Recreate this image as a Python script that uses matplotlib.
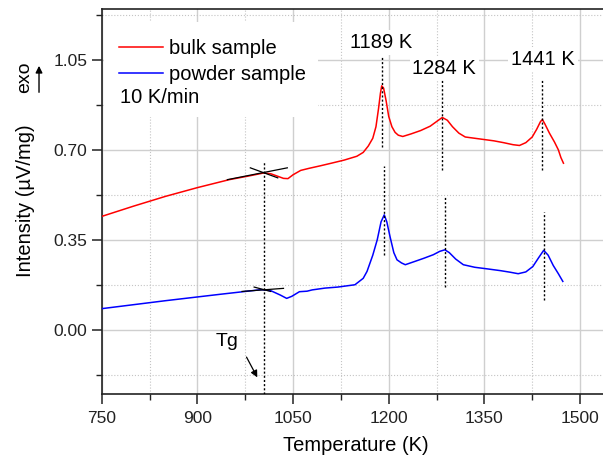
# DSC traces for bulk vs powder sample, 10 K/min
import matplotlib
matplotlib.use("Agg")
import matplotlib.pyplot as plt
from matplotlib.patches import Rectangle
from matplotlib.ticker import MultipleLocator, FormatStrFormatter

plt.rcParams['font.family'] = ['Liberation Sans', 'DejaVu Sans']

# bulk sample (red)
bulk_T = [750, 800, 850, 900, 950, 980, 1004, 1015, 1025, 1035, 1042, 1050, 1062, 1075, 1093,
          1110, 1130, 1150, 1160, 1168, 1175, 1180, 1184, 1187, 1189, 1192, 1196, 1200, 1205,
          1210, 1215, 1222, 1235, 1250, 1265, 1275, 1284, 1292, 1300, 1310, 1320, 1335, 1350,
          1365, 1380, 1395, 1405, 1415, 1425, 1432, 1438, 1441, 1445, 1452, 1460, 1466, 1470, 1474]
bulk_I = [0.441, 0.481, 0.519, 0.553, 0.584, 0.598, 0.610, 0.607, 0.598, 0.589, 0.588, 0.603, 0.620,
          0.628, 0.638, 0.648, 0.660, 0.675, 0.690, 0.715, 0.745, 0.790, 0.860, 0.920, 0.949, 0.940,
          0.890, 0.830, 0.790, 0.768, 0.757, 0.752, 0.762, 0.775, 0.792, 0.810, 0.826, 0.815, 0.790,
          0.765, 0.750, 0.745, 0.740, 0.735, 0.728, 0.720, 0.717, 0.728, 0.750, 0.780, 0.810, 0.818,
          0.800, 0.765, 0.730, 0.700, 0.670, 0.648]

# powder sample (blue)
powder_T = [750, 850, 936, 1000, 1015, 1030, 1040, 1048, 1060, 1072, 1080, 1100, 1120, 1147, 1160,
            1166, 1175, 1182, 1188, 1193, 1197, 1202, 1208, 1213, 1220, 1226, 1240, 1255, 1270,
            1280, 1288, 1295, 1305, 1317, 1335, 1354, 1375, 1390, 1403, 1415, 1426, 1435, 1443,
            1450, 1458, 1466, 1473]
powder_I = [0.082, 0.113, 0.138, 0.156, 0.152, 0.135, 0.122, 0.130, 0.148, 0.150, 0.155, 0.162,
            0.166, 0.175, 0.200, 0.227, 0.290, 0.350, 0.420, 0.447, 0.420, 0.363, 0.300, 0.272,
            0.260, 0.253, 0.265, 0.278, 0.292, 0.305, 0.311, 0.300, 0.275, 0.253, 0.243, 0.237,
            0.230, 0.224, 0.218, 0.225, 0.246, 0.280, 0.309, 0.290, 0.250, 0.218, 0.188]

# tangent construction lines for Tg (x pairs, y pairs)
tangents = [
    ([947, 1041], [0.584, 0.630]),
    ([983, 1026], [0.630, 0.591]),
    ([970, 1035], [0.149, 0.161]),
    ([989, 1015], [0.166, 0.149]),
]

# dotted markers: x, y from, y to
marks_x = [1004, 1189, 1193, 1284, 1289, 1441, 1444]
marks_y0 = [-0.25, 0.712, 0.292, 0.623, 0.166, 0.623, 0.117]
marks_y1 = [0.654, 1.062, 0.636, 0.977, 0.519, 0.977, 0.460]

peak_labels = ['1189 K', '1284 K', '1441 K']
peak_pos = [(1188, 1.118), (1287, 1.018), (1442, 1.052)]

fig = plt.figure(figsize=(6.03, 4.57), dpi=100)
ax = fig.add_axes([0.1687, 0.1379, 0.8313, 0.8435])
ax.set_axisbelow(True)

ax.set_xlim(750, 1536)
ax.set_ylim(-0.25, 1.25)
ax.xaxis.set_major_locator(MultipleLocator(150))
ax.xaxis.set_minor_locator(MultipleLocator(75))
ax.yaxis.set_major_locator(MultipleLocator(0.35))
ax.yaxis.set_minor_locator(MultipleLocator(0.175))
ax.yaxis.set_major_formatter(FormatStrFormatter('%.2f'))

ax.grid(which='major', color='#cfcfcf', linewidth=1.0, linestyle='-')
ax.grid(which='minor', color='#c4c4c4', linewidth=0.8, linestyle=':')

for s in ['left', 'bottom', 'top']:
    ax.spines[s].set_color('#222222')
    ax.spines[s].set_linewidth(1.2)
ax.spines['right'].set_visible(False)
ax.tick_params(which='major', direction='out', length=7, width=1.1, labelsize=12.5,
               colors='#222222', top=False, right=False)
ax.tick_params(which='minor', direction='out', length=4, width=1.0, colors='#222222',
               top=False, right=False)
ax.tick_params(axis='x', pad=5)

# white patch behind the legend block
ax.add_patch(Rectangle((0.004, 0.7195), 0.428, 0.2465, transform=ax.transAxes,
                       facecolor='white', edgecolor='none', zorder=1))

ax.plot(bulk_T, bulk_I, color='#ff0000', linewidth=1.1, label='bulk sample', zorder=3)
ax.plot(powder_T, powder_I, color='#0000ff', linewidth=1.1, label='powder sample', zorder=3)

for tx, ty in tangents:
    ax.plot(tx, ty, color='black', linewidth=0.9, zorder=4)

for x, y0, y1 in zip(marks_x, marks_y0, marks_y1):
    ax.plot([x, x], [y0, y1], color='black', linestyle=(0, (1.5, 1.5)), linewidth=1.0, zorder=4)

for lab, (x, y) in zip(peak_labels, peak_pos):
    ax.text(x, y, lab, fontsize=14.5, ha='center', va='center', zorder=5,
            bbox=dict(facecolor='white', edgecolor='none', pad=2))

leg = ax.legend(loc='upper left', bbox_to_anchor=(0.034, 0.92), frameon=False, fontsize=14.5,
                handlelength=2.2, handletextpad=0.3, labelspacing=0.35, borderpad=0,
                borderaxespad=0)
leg.set_zorder(5)
ax.text(778, 0.903, '10 K/min', fontsize=14.5, ha='left', va='center', zorder=5)

ax.text(947, -0.045, 'Tg', fontsize=14, ha='center', va='center', zorder=5)
ax.annotate('', xy=(996, -0.195), xytext=(975, -0.097),
            arrowprops=dict(arrowstyle='-|>', color='black', lw=0.9, mutation_scale=10), zorder=5)

fig.text(0.0415, 0.560, 'Intensity (\u00b5V/mg)', rotation=90, fontsize=14.5,
         ha='center', va='center')
fig.text(0.0415, 0.830, 'exo', rotation=90, fontsize=14, ha='center', va='center')
fig.add_artist(matplotlib.patches.FancyArrowPatch((0.0647, 0.792), (0.0647, 0.862),
                                                  transform=fig.transFigure, arrowstyle='-|>',
                                                  mutation_scale=10, color='black', lw=1.0))
fig.text(0.590, 0.026, 'Temperature (K)', fontsize=14.5, ha='center', va='center')

fig.savefig('out.png', dpi=100)
